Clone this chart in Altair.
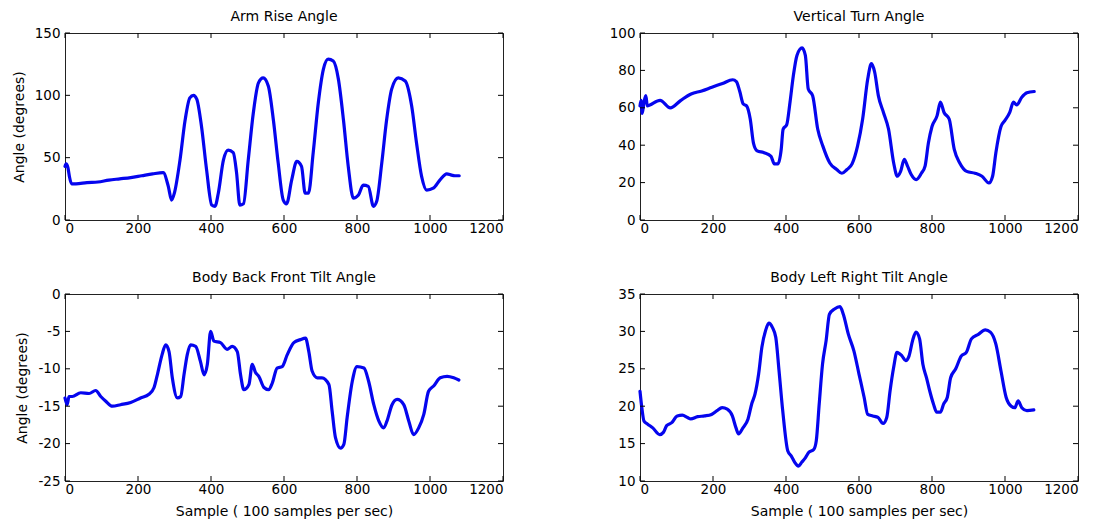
import altair as alt
import pandas as pd

# ---------------- data ----------------
arm_x = [0, 3, 8, 12, 18, 30, 60, 90, 120, 150, 180, 210, 240, 269, 283, 292, 300, 315, 329, 342,
         352, 361, 374, 388, 402, 411, 420, 434, 447, 461, 470, 479, 489, 502, 516, 530, 543, 557,
         571, 584, 598, 607, 621, 635, 648, 658, 667, 680, 694, 708, 721, 735, 749, 763, 776, 790,
         804, 817, 831, 845, 854, 868, 881, 895, 913, 932, 950, 963, 977, 991, 1009, 1027, 1046,
         1059, 1068, 1080]
arm_y = [43, 45, 42, 35, 29, 29, 30, 30.5, 32, 33, 34, 35.5, 37, 38, 27, 16, 22, 48, 80, 98,
         100, 97, 75, 40, 12, 11, 21.5, 48, 56, 54, 38, 12, 13, 48, 86, 110, 114, 107.5,
         80, 46, 16, 13, 32, 47, 43, 21.5, 21.5, 54, 94, 121, 129, 127.5, 113, 80, 43, 17.5,
         20, 28, 27, 11, 15, 46, 80, 105, 114, 111.5, 91, 62, 35, 24, 25.5, 32, 37,
         36, 35.5, 35.5]

turn_x = [0, 3, 6, 11, 16, 20, 27, 55, 83, 112, 140, 169, 197, 226, 254, 264, 273, 283, 292, 302,
          311, 321, 340, 359, 368, 378, 387, 392, 402, 411, 420, 430, 444, 453, 461, 473, 487, 501,
          520, 539, 553, 567, 581, 596, 610, 624, 634, 643, 653, 667, 681, 695, 705, 714, 724, 733,
          743, 757, 771, 781, 790, 800, 814, 823, 833, 847, 861, 876, 895, 918, 937, 956, 966, 975,
          989, 999, 1013, 1023, 1032, 1046, 1060, 1080]
turn_y = [61, 64, 57, 63, 66.5, 61, 61.5, 64, 60, 64, 67.4, 69, 71, 73, 75, 74, 69, 62, 61, 54,
          41, 37, 36, 34, 30, 30, 38, 48.5, 51, 63, 77, 88, 92, 88, 70, 66.5, 48.5, 39.5,
          30.5, 27, 25, 27, 30, 39.5, 54, 75.5, 83.6, 79, 66.5, 57.5, 48.5, 30.5, 23.4, 26, 32.4, 28.8,
          24.3, 21.6, 25, 28.8, 41, 50, 55.8, 63, 57.5, 54, 37.8, 30.5, 26, 25, 23.4, 19.8, 23.4, 36,
          50, 53, 57.5, 63, 61.5, 65.6, 68, 68.7]

bf_x = [0, 6, 11, 20, 43, 66, 84, 98, 111, 130, 152, 180, 207, 230, 244, 253, 266, 276, 285, 294,
        308, 317, 326, 335, 344, 358, 371, 381, 390, 399, 408, 426, 444, 458, 472, 481, 490, 504,
        513, 522, 531, 545, 558, 568, 581, 595, 609, 627, 645, 659, 668, 677, 691, 704, 723, 732,
        741, 755, 764, 773, 787, 800, 819, 832, 846, 860, 873, 882, 896, 910, 928, 942, 955, 969,
        983, 996, 1010, 1028, 1047, 1065, 1079]
bf_y = [-13.9, -14.8, -13.7, -13.7, -13.2, -13.3, -12.9, -13.7, -14.3, -15, -14.8, -14.5, -13.9,
        -13.4, -12.5, -10.8, -8.1, -6.8, -7.7, -11.2, -13.9, -13.7, -10.8, -8.1, -6.8, -7, -9,
        -10.8, -9.4, -5, -6.3, -6.5, -7.4, -7, -7.7, -10.8, -12.8, -12.1, -9.4, -10.5, -11, -12.5,
        -12.8, -11.9, -9.9, -9.7, -8.1, -6.5, -6.1, -5.9, -7.7, -10.3, -11.2, -11.2, -12.1, -15.7,
        -19.2, -20.6, -20.1, -16.5, -11.7, -9.7, -9.9, -11.7, -14.8, -17, -17.9, -17, -14.8, -14.1,
        -14.8, -17, -18.8, -17.9, -16.1, -13, -12.3, -11.2, -11, -11.2, -11.5]

lr_x = [0, 5, 11, 21, 35, 54, 64, 73, 87, 102, 116, 130, 139, 158, 177, 196, 211, 225, 239, 253,
        263, 270, 282, 296, 306, 315, 325, 334, 344, 353, 363, 372, 381, 391, 405, 415, 424, 434,
        443, 453, 462, 476, 483, 491, 500, 510, 519, 533, 548, 557, 571, 586, 600, 614, 624, 638,
        652, 666, 676, 685, 695, 704, 718, 728, 737, 747, 756, 766, 775, 785, 794, 804, 813, 823,
        832, 842, 851, 865, 880, 894, 908, 927, 946, 960, 975, 989, 1003, 1017, 1027, 1036, 1046,
        1060, 1079]
lr_y = [22, 19.8, 18, 17.6, 17.1, 16.2, 16.5, 17.4, 17.8, 18.7, 18.8, 18.5, 18.3, 18.6, 18.7,
        18.9, 19.4, 19.8, 19.6, 18.7, 17.1, 16.3, 17.1, 18.3, 20.3, 21.6, 24.3, 27.9, 30.1, 31.1,
        30.5, 29.2, 24.7, 19.4, 14, 13.3, 12.5, 12, 12.5, 13.1, 13.8, 14.2, 15.4, 20.3, 25.6, 28.8,
        32.3, 33, 33.3, 32.3, 29.6, 27.4, 24.3, 21.2, 18.9, 18.7, 18.5, 17.7, 18.5, 22, 25.2, 27.2,
        26.7, 26.1, 26.7, 28.8, 29.9, 29, 25.6, 23.8, 22, 20.3, 19.2, 19.2, 20.3, 21.2, 23.8, 25,
        26.7, 27.2, 29, 29.6, 30.2, 29.9, 28.3, 24.7, 21.2, 20, 19.8, 20.7, 19.8, 19.4, 19.5]

x_ticks = [0, 200, 400, 600, 800, 1000, 1200]
arm_ticks = [0, 50, 100, 150]
turn_ticks = [0, 20, 40, 60, 80, 100]
bf_ticks = [-25, -20, -15, -10, -5, 0]
lr_ticks = [10, 15, 20, 25, 30, 35]

titles = ["Arm Rise Angle", "Vertical Turn Angle", "Body Back Front Tilt Angle",
          "Body Left Right Tilt Angle"]
y_title = "Angle (degrees)"
x_title = "Sample ( 100 samples per sec)"

# ---------------- style ----------------
W, H = 438, 187
TICK = 5
BLUE = "#0505ee"
FONT = "DejaVu Sans"


def panel(xs, ys, yticks, title, ytitle, xtitle):
    df = pd.DataFrame({"x": xs, "y": ys})
    xscale = alt.Scale(domain=[x_ticks[0], x_ticks[-1]], nice=False, zero=False)
    yscale = alt.Scale(domain=[yticks[0], yticks[-1]], nice=False, zero=False)
    xaxis = alt.Axis(values=x_ticks, title=xtitle, labelExpr="'' + datum.value")
    yaxis = alt.Axis(values=yticks, title=ytitle, labelExpr="'' + datum.value")
    X = alt.X("x:Q", scale=xscale, axis=xaxis)
    Y = alt.Y("y:Q", scale=yscale, axis=yaxis)
    line = alt.Chart(df).mark_line(
        color=BLUE, strokeWidth=3.2, strokeJoin="round", strokeCap="round",
        interpolate="monotone"
    ).encode(x=X, y=Y)
    ydf = pd.DataFrame({"y": yticks})
    xdf = pd.DataFrame({"x": x_ticks})
    yl = alt.Chart(ydf).mark_rule(color="black", strokeWidth=1).encode(
        y=Y, x=alt.value(0), x2=alt.value(TICK))
    yr = alt.Chart(ydf).mark_rule(color="black", strokeWidth=1).encode(
        y=Y, x=alt.value(W - TICK), x2=alt.value(W))
    xb = alt.Chart(xdf).mark_rule(color="black", strokeWidth=1).encode(
        x=X, y=alt.value(H), y2=alt.value(H - TICK))
    xt = alt.Chart(xdf).mark_rule(color="black", strokeWidth=1).encode(
        x=X, y=alt.value(0), y2=alt.value(TICK))
    return alt.layer(line, yl, yr, xb, xt).properties(
        width=W, height=H,
        title=alt.TitleParams(title, anchor="middle", offset=2),
    )


p1 = panel(arm_x, arm_y, arm_ticks, titles[0], y_title, None)
p2 = panel(turn_x, turn_y, turn_ticks, titles[1], None, None)
p3 = panel(bf_x, bf_y, bf_ticks, titles[2], y_title, x_title)
p4 = panel(lr_x, lr_y, lr_ticks, titles[3], None, x_title)

chart = alt.concat(
    p1, p2, p3, p4, columns=2, spacing={"row": 74, "column": 137}, bounds="flush"
).properties(
    padding={"left": 3, "top": 1, "right": 5, "bottom": 5}, background="white"
).configure_view(
    stroke="#222222", strokeWidth=1
).configure_axis(
    domain=False, ticks=False, grid=False,
    labelFont=FONT, labelFontSize=13.5, labelColor="black", labelPadding=5,
    titleFont=FONT, titleFontSize=14, titleFontWeight="normal", titleColor="black",
    titlePadding=8,
).configure_axisX(
    labelPadding=1, titlePadding=9
).configure_title(
    font=FONT, fontSize=14, fontWeight="normal", color="black"
)

chart.save("out.html", embed_options={"renderer": "svg", "actions": False})
